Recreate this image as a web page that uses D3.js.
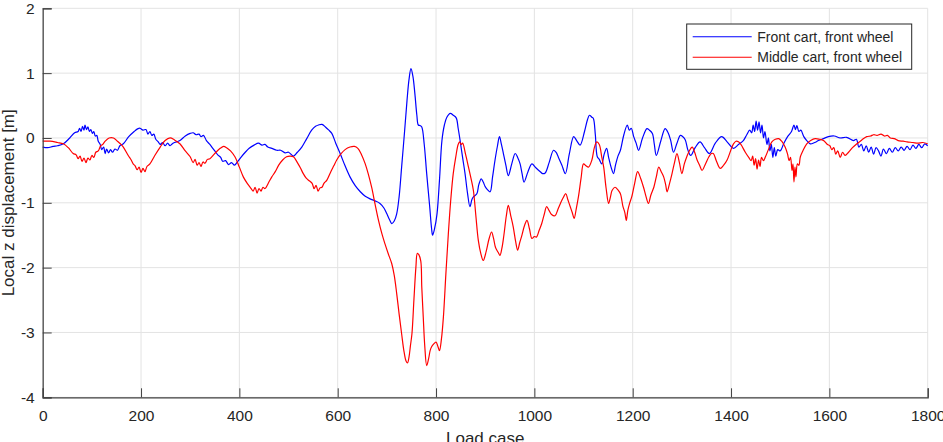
<!DOCTYPE html>
<html><head><meta charset="utf-8">
<script src="https://cdn.jsdelivr.net/npm/d3@7"></script>
<style>html,body{margin:0;padding:0;background:#fff;}svg{display:block;font-family:Arial,"Liberation Sans",Helvetica,sans-serif;}</style>
</head><body><svg id="c" width="943" height="442"></svg>
<script>
const xTicks = [0,200,400,600,800,1000,1200,1400,1600,1800];
const yTicks = [-4,-3,-2,-1,0,1,2];
const xLabel = "Load case";
const yLabel = "Local z displacement [m]";
const seriesNames = ["Front cart, front wheel","Middle cart, front wheel"];

const frontX = [0,10,21,30,42,55,65,72,75,78,81,84,86,89,92,95,98,101,104,107,110,113,117,120,124,127,130,134,138,142,147,152,157,164,175,186,193,198,204,210,214,218,222,226,230,235,239,244,249,254,259,265,272,279,290,300,306,312,318,322,327,333,340,344,350,356,362,366,372,378,384,390,396,404,412,420,430,439,446,452,458,466,476,484,493,500,510,518,527,537,547,555,561,568,575,582,588,596,605,615,625,636,646,656,666,676,686,694,700,706,710,715,720,725,730,736,741,745,749,753,757,761,764,768,771,776,781,787,791,793,797,802,807,812,817,822,829,835,841,845,849,854,859,864,869,873,876,883,887,892,896,900,905,910,915,920,925,929,933,937,942,947,954,961,966,971,975,979,987,995,1003,1012,1017,1022,1030,1039,1044,1049,1056,1063,1071,1080,1086,1093,1102,1108,1112,1117,1120,1124,1128,1132,1137,1142,1147,1151,1156,1161,1165,1170,1175,1182,1189,1193,1197,1202,1207,1212,1220,1229,1234,1240,1244,1248,1257,1266,1272,1277,1283,1290,1297,1302,1307,1312,1318,1327,1337,1346,1356,1368,1381,1392,1405,1415,1425,1432,1438,1442,1445,1448,1451,1454,1457,1460,1463,1466,1469,1473,1476,1479,1482,1485,1488,1491,1495,1500,1507,1515,1523,1528,1531,1534,1538,1542,1548,1554,1561,1570,1578,1588,1598,1610,1622,1635,1649,1655,1660,1665,1670,1675,1680,1685,1690,1695,1700,1705,1710,1716,1722,1728,1734,1740,1746,1752,1758,1764,1770,1776,1782,1788,1794,1800];
const frontY = [-0.14,-0.15,-0.13,-0.12,-0.09,0.0,0.08,0.1,0.15,0.1,0.18,0.12,0.2,0.13,0.17,0.1,0.13,0.07,0.1,0.03,0.04,-0.05,-0.1,-0.18,-0.14,-0.24,-0.17,-0.23,-0.18,-0.22,-0.17,-0.19,-0.12,-0.09,0.02,0.1,0.14,0.15,0.12,0.13,0.06,0.1,0.04,0.06,-0.02,-0.06,-0.1,-0.07,-0.12,-0.08,-0.12,-0.08,-0.06,-0.04,0.03,0.07,0.08,0.05,0.06,0.02,0.04,-0.04,-0.1,-0.14,-0.2,-0.26,-0.3,-0.36,-0.35,-0.41,-0.38,-0.42,-0.37,-0.29,-0.22,-0.16,-0.11,-0.08,-0.11,-0.1,-0.14,-0.16,-0.19,-0.19,-0.23,-0.22,-0.28,-0.22,-0.14,-0.01,0.12,0.18,0.2,0.21,0.17,0.12,0.07,-0.08,-0.24,-0.43,-0.6,-0.74,-0.83,-0.9,-0.94,-0.97,-1.01,-1.08,-1.17,-1.27,-1.32,-1.28,-1.17,-0.9,-0.45,0.1,0.58,0.9,1.07,0.95,0.68,0.35,0.2,0.19,0.17,-0.1,-0.55,-1.05,-1.4,-1.5,-1.4,-1.17,-0.65,-0.04,0.2,0.32,0.38,0.35,0.31,0.15,-0.04,-0.3,-0.55,-0.85,-1.06,-0.95,-0.91,-0.86,-0.72,-0.63,-0.68,-0.75,-0.8,-0.83,-0.6,-0.34,-0.12,0.02,-0.1,-0.24,-0.42,-0.58,-0.4,-0.24,-0.3,-0.4,-0.55,-0.68,-0.52,-0.4,-0.46,-0.52,-0.55,-0.54,-0.38,-0.19,-0.22,-0.3,-0.42,-0.55,-0.25,0.02,-0.04,-0.11,0.1,0.28,0.35,0.32,0.3,0.05,-0.29,-0.33,-0.4,-0.25,-0.16,-0.3,-0.45,-0.55,-0.42,-0.28,-0.19,0.05,0.2,0.12,0.15,0.02,-0.08,-0.19,0.0,0.145,0.12,0.07,-0.1,-0.27,-0.05,0.145,0.08,-0.03,-0.22,-0.08,0.04,0.02,-0.03,-0.18,-0.27,-0.15,-0.06,-0.15,-0.24,-0.08,0.02,-0.06,-0.16,-0.1,-0.04,0.05,0.12,0.08,0.2,0.1,0.26,0.12,0.25,0.08,0.2,0.0,0.1,-0.1,0.0,-0.2,-0.1,-0.3,-0.15,-0.28,-0.18,-0.2,-0.09,0.02,0.1,0.2,0.13,0.19,0.1,0.12,0.02,-0.04,-0.09,-0.07,-0.04,-0.01,0.02,0.03,0.0,0.01,-0.04,-0.02,-0.14,-0.1,-0.2,-0.12,-0.22,-0.14,-0.25,-0.15,-0.2,-0.28,-0.17,-0.24,-0.16,-0.22,-0.15,-0.2,-0.14,-0.19,-0.13,-0.18,-0.11,-0.16,-0.1,-0.15,-0.09,-0.12];

const middleX = [0,15,30,42,52,62,68,72,76,80,84,88,92,96,100,104,108,113,118,122,127,135,144,152,158,164,174,180,184,188,192,196,200,204,208,212,218,228,239,249,259,268,279,290,300,306,310,314,318,322,326,330,335,340,350,361,368,374,382,391,400,408,416,424,428,432,436,440,444,448,452,460,466,473,480,488,496,503,510,518,524,530,536,542,548,552,556,560,564,568,572,578,586,592,598,606,615,625,634,641,648,656,662,669,676,683,690,696,703,710,715,720,725,730,735,739,742,745,748,751,755,759,762,765,769,771,774,777,781,785,788,791,795,800,804,807,811,815,820,825,830,835,840,845,848,851,854,860,866,871,876,881,886,891,896,902,908,913,917,921,926,930,934,938,943,947,952,957,962,966,970,975,980,985,990,995,1000,1004,1010,1015,1020,1025,1030,1035,1042,1048,1053,1058,1064,1068,1073,1077,1081,1085,1090,1095,1100,1105,1110,1117,1122,1127,1132,1137,1141,1146,1151,1155,1158,1164,1170,1175,1180,1184,1187,1190,1194,1198,1204,1210,1216,1222,1227,1232,1237,1243,1248,1253,1258,1263,1267,1270,1275,1280,1285,1290,1295,1300,1305,1310,1315,1321,1326,1331,1336,1341,1348,1355,1360,1364,1370,1378,1385,1392,1399,1405,1410,1415,1420,1429,1436,1441,1444,1447,1450,1453,1456,1459,1462,1466,1470,1476,1483,1490,1497,1503,1510,1515,1518,1521,1524,1526,1528,1530,1532,1535,1538,1541,1546,1554,1562,1571,1580,1588,1596,1601,1605,1609,1613,1617,1622,1627,1632,1639,1647,1656,1666,1676,1684,1690,1697,1705,1712,1718,1724,1732,1740,1750,1758,1770,1780,1790,1800];
const middleY = [-0.05,-0.05,-0.07,-0.09,-0.15,-0.24,-0.26,-0.32,-0.28,-0.36,-0.31,-0.38,-0.31,-0.34,-0.27,-0.3,-0.22,-0.2,-0.12,-0.1,-0.05,0.0,0.0,-0.05,-0.09,-0.14,-0.27,-0.34,-0.4,-0.43,-0.49,-0.45,-0.53,-0.47,-0.52,-0.44,-0.4,-0.27,-0.14,-0.04,0.0,-0.03,-0.09,-0.2,-0.29,-0.38,-0.33,-0.42,-0.38,-0.44,-0.37,-0.39,-0.33,-0.32,-0.24,-0.16,-0.13,-0.15,-0.2,-0.29,-0.45,-0.6,-0.7,-0.78,-0.82,-0.76,-0.85,-0.78,-0.82,-0.76,-0.78,-0.68,-0.6,-0.52,-0.42,-0.34,-0.29,-0.28,-0.29,-0.38,-0.46,-0.55,-0.62,-0.66,-0.7,-0.78,-0.73,-0.82,-0.77,-0.76,-0.7,-0.65,-0.52,-0.43,-0.34,-0.25,-0.18,-0.14,-0.13,-0.16,-0.25,-0.4,-0.55,-0.76,-1.02,-1.27,-1.48,-1.63,-1.79,-1.94,-2.12,-2.4,-2.72,-3.02,-3.3,-3.44,-3.47,-3.38,-3.2,-3.02,-2.5,-2.0,-1.78,-1.8,-1.9,-2.3,-2.76,-3.2,-3.51,-3.4,-3.28,-3.22,-3.18,-3.15,-3.22,-3.28,-3.1,-2.76,-2.1,-1.48,-0.95,-0.55,-0.3,-0.1,-0.06,-0.1,-0.08,-0.25,-0.45,-0.62,-0.81,-1.2,-1.58,-1.78,-1.89,-1.75,-1.55,-1.45,-1.55,-1.69,-1.76,-1.81,-1.7,-1.5,-1.2,-1.04,-1.2,-1.37,-1.6,-1.73,-1.62,-1.49,-1.35,-1.27,-1.4,-1.55,-1.52,-1.53,-1.42,-1.32,-1.18,-1.06,-1.12,-1.18,-1.2,-1.1,-1.01,-0.93,-0.86,-0.95,-1.06,-1.15,-1.24,-1.1,-0.89,-0.62,-0.4,-0.43,-0.45,-0.34,-0.15,-0.06,-0.1,-0.29,-0.45,-0.78,-1.01,-0.9,-0.81,-0.76,-0.8,-0.86,-1.05,-1.15,-1.27,-1.12,-1.0,-0.91,-0.7,-0.52,-0.62,-0.76,-0.9,-1.01,-0.88,-0.76,-0.6,-0.45,-0.52,-0.6,-0.72,-0.83,-0.7,-0.55,-0.38,-0.24,-0.38,-0.55,-0.4,-0.29,-0.2,-0.14,-0.22,-0.34,-0.42,-0.5,-0.4,-0.29,-0.24,-0.24,-0.35,-0.47,-0.42,-0.34,-0.2,-0.09,-0.05,-0.06,-0.1,-0.22,-0.3,-0.35,-0.28,-0.42,-0.32,-0.48,-0.34,-0.44,-0.3,-0.35,-0.29,-0.18,-0.06,-0.02,-0.01,-0.05,-0.14,-0.25,-0.35,-0.3,-0.5,-0.4,-0.68,-0.45,-0.6,-0.4,-0.42,-0.29,-0.2,-0.09,-0.04,-0.01,-0.02,-0.04,-0.1,-0.12,-0.18,-0.15,-0.25,-0.2,-0.3,-0.22,-0.27,-0.22,-0.15,-0.09,-0.03,0.02,0.03,0.05,0.04,0.06,0.03,0.04,0.0,-0.01,-0.04,-0.05,-0.06,-0.07,-0.08,-0.07,-0.09];

const seriesColors = ["#0000ff","#ff0000"];

const svg = d3.select("#c");
const L = 42.7, R = 927.7, T = 8.3, B = 397.3;
const x = d3.scaleLinear().domain([0,1800]).range([L,R]);
const y = d3.scaleLinear().domain([-4,2]).range([B,T]);
const ink = "#262626";

// grid
svg.append("g").selectAll("line").data(xTicks).join("line")
  .attr("x1",d=>x(d)).attr("x2",d=>x(d)).attr("y1",T).attr("y2",B)
  .attr("stroke","#e3e3e3").attr("stroke-width",1);
svg.append("g").selectAll("line").data(yTicks).join("line")
  .attr("x1",L).attr("x2",R).attr("y1",d=>y(d)).attr("y2",d=>y(d))
  .attr("stroke","#e3e3e3").attr("stroke-width",1);

// lines
const line = d3.line().x(d=>x(d[0])).y(d=>y(d[1])).curve(d3.curveCatmullRom.alpha(0.5));
const series = [d3.zip(frontX,frontY), d3.zip(middleX,middleY)];
series.forEach((s,i)=>{
  svg.append("path").datum(s).attr("d",line).attr("fill","none")
    .attr("stroke",seriesColors[i]).attr("stroke-width",1.2).attr("stroke-linejoin","round");
});

// axes
const fmt = d => String(d);
const xAxis = d3.axisBottom(x).tickValues(xTicks).tickSize(-9).tickPadding(13).tickFormat(fmt);
const gx = svg.append("g").attr("transform",`translate(0,${B})`).call(xAxis);
const yAxis = d3.axisLeft(y).tickValues(yTicks).tickSize(-9).tickPadding(8).tickFormat(fmt);
const gy = svg.append("g").attr("transform",`translate(${L},0)`).call(yAxis);
[gx,gy].forEach(g=>{
  g.select(".domain").attr("stroke","#404040").attr("stroke-width",1.2);
  g.selectAll(".tick line").attr("stroke","#404040");
  g.selectAll("text").attr("fill",ink).attr("font-size","15.5px").attr("font-family","Arial, 'Liberation Sans', sans-serif");
});

svg.append("text").attr("x",(L+R)/2).attr("y",444).attr("text-anchor","middle")
  .attr("font-size","17px").attr("fill",ink).text(xLabel);
svg.append("text").attr("transform",`translate(14,${(T+B)/2}) rotate(-90)`).attr("text-anchor","middle")
  .attr("font-size","17px").attr("fill",ink).text(yLabel);

// legend
const lg = svg.append("g");
lg.append("rect").attr("x",686.7).attr("y",24).attr("width",225).attr("height",45.3)
  .attr("fill","#fff").attr("stroke",ink).attr("stroke-width",1);
seriesNames.forEach((n,i)=>{
  const yy = 36.7 + i*20.6;
  lg.append("line").attr("x1",692.7).attr("x2",751.7).attr("y1",yy).attr("y2",yy)
    .attr("stroke",seriesColors[i]).attr("stroke-width",1.1);
  lg.append("text").attr("x",757.3).attr("y",yy).attr("dy","0.35em")
    .attr("font-size","14px").attr("fill",ink).text(n);
});
</script></body></html>
